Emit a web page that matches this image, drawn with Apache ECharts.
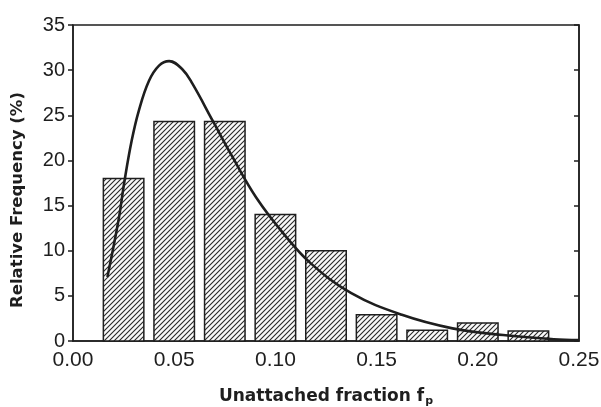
<!DOCTYPE html>
<html>
<head>
<meta charset="utf-8">
<script src="https://cdn.jsdelivr.net/npm/echarts@6/dist/echarts.min.js"></script>
<style>html,body{margin:0;padding:0;background:#fff}#c{width:601px;height:407px}</style>
</head>
<body>
<div id="c"></div>
<script>
// Histogram bins (bin centre of unattached fraction), relative frequency (%)
var binCenters = [0.025, 0.05, 0.075, 0.10, 0.125, 0.15, 0.175, 0.20, 0.225];
var binFreq    = [18.0, 24.3, 24.3, 14.0, 10.0, 2.9, 1.2, 2.0, 1.1];
var binWidth = 0.02;
// Fitted distribution curve
var curveX = [0.017, 0.0225, 0.0255, 0.029, 0.0325, 0.0375, 0.0425, 0.0475, 0.054, 0.059, 0.069, 0.079, 0.0905, 0.104, 0.1175, 0.1375, 0.1625, 0.1875, 0.2125, 0.2375, 0.25];
var curveY = [7.1, 13.4, 17.8, 22.2, 25.5, 28.8, 30.5, 31.0, 30.1, 28.5, 24.4, 20.3, 15.9, 11.9, 8.6, 5.3, 2.9, 1.4, 0.66, 0.2, 0.1];
var xTicks = [0, 0.05, 0.10, 0.15, 0.20, 0.25];
var yTicks = [0, 5, 10, 15, 20, 25, 30, 35];
var xTitle = 'Unattached fraction f';
var xTitleSub = 'p';
var yTitle = 'Relative Frequency (%)';

var ink = '#1e1e1e';
// hatch pattern
var pc = document.createElement('canvas');
pc.width = 5; pc.height = 5;
var g = pc.getContext('2d');
g.fillStyle = '#fafafa'; g.fillRect(0,0,5,5);
g.strokeStyle = '#2a2a2a'; g.lineWidth = 1.1;
g.beginPath();
g.moveTo(-1,6); g.lineTo(6,-1);
g.moveTo(-1,1); g.lineTo(1,-1);
g.moveTo(4,6); g.lineTo(6,4);
g.stroke();

var barData = binCenters.map(function(c,i){return [c, binFreq[i]];});
var lineData = curveX.map(function(x,i){return [x, curveY[i]];});

var chart = echarts.init(document.getElementById('c'), null, {renderer:'canvas'});
chart.setOption({
  animation:false,
  backgroundColor:'#fff',
  grid:{left:73, right:22, top:25, bottom:66, outerBoundsMode:'none', containLabel:false,
    show:true, borderColor:ink, borderWidth:1.5, backgroundColor:'transparent'},
  xAxis:{
    type:'value', min:xTicks[0], max:xTicks[xTicks.length-1], interval:0.05,
    axisLine:{show:true, lineStyle:{color:ink, width:1.5}},
    axisTick:{show:false},
    splitLine:{show:false},
    axisLabel:{margin:9, fontFamily:'Liberation Sans, Arial', fontSize:21, color:ink,
      formatter:function(v){return v.toFixed(2);}},
    name:'{a|' + xTitle + '}{b|' + xTitleSub + '}',
    nameLocation:'middle', nameGap:46,
    nameTextStyle:{rich:{
      a:{fontFamily:'DejaVu Sans', fontWeight:'bold', fontSize:17, color:ink},
      b:{fontFamily:'DejaVu Sans', fontWeight:'bold', fontSize:11, color:ink, verticalAlign:'bottom', padding:[9,0,0,1]}
    }}
  },
  yAxis:[{
    type:'value', min:yTicks[0], max:yTicks[yTicks.length-1], interval:5,
    axisLine:{show:true, lineStyle:{color:ink, width:1.5}},
    axisTick:{show:true, inside:false, length:5, lineStyle:{color:ink, width:1.5}},
    splitLine:{show:false},
    axisLabel:{margin:8, fontFamily:'Liberation Sans, Arial', fontSize:20, color:ink}
  },{
    type:'value', min:yTicks[0], max:yTicks[yTicks.length-1], interval:5, position:'right',
    axisLine:{show:true, lineStyle:{color:ink, width:1.5}},
    axisTick:{show:true, inside:true, length:5, lineStyle:{color:ink, width:1.5}},
    axisLabel:{show:false}, splitLine:{show:false}
  }],
  graphic:[{
    type:'text', x:18, y:200, rotation:Math.PI/2,
    style:{text:yTitle, fontFamily:'DejaVu Sans', fontWeight:'bold', fontSize:16.5, fill:ink,
      textAlign:'center', textVerticalAlign:'middle'}
  }],
  series:[{
    type:'custom',
    data:barData,
    renderItem:function(params, api){
      var c = api.value(0), v = api.value(1);
      var p0 = api.coord([c - binWidth/2, v]);
      var p1 = api.coord([c + binWidth/2, 0]);
      return {type:'rect', shape:{x:p0[0], y:p0[1], width:p1[0]-p0[0], height:p1[1]-p0[1]},
        style:{fill:{image:pc, repeat:'repeat'}, stroke:ink, lineWidth:1.5}};
    },
    encode:{x:0, y:1}, z:2
  },{
    type:'line', data:lineData, smooth:0.4, showSymbol:false, symbol:'none',
    lineStyle:{color:ink, width:2.6}, z:3
  }]
});
</script>
</body>
</html>
